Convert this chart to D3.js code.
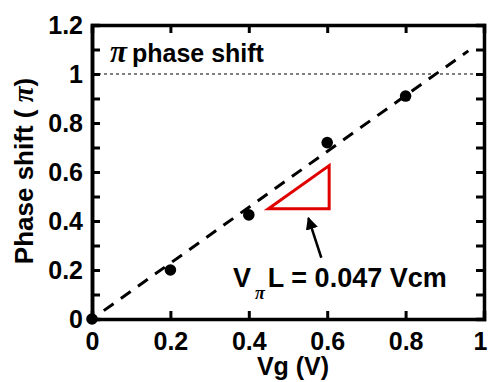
<!DOCTYPE html>
<html>
<head>
<meta charset="utf-8">
<script src="https://cdn.jsdelivr.net/npm/d3@7"></script>
<style>
  body { margin: 0; background: #fff; }
  text { font-family: "Liberation Sans", Arial, sans-serif; font-weight: bold; fill: #000; }
</style>
</head>
<body>
<svg width="488" height="382"></svg>
<script>
// measured phase shift vs gate voltage
let vg = [0, 0.2, 0.4, 0.6, 0.8];
let phase = [0, 0.2, 0.425, 0.72, 0.91];

// linear fit (dashed)
let fitX = [0.03, 0.96];
let fitSlope = 1.14;

// slope triangle + arrow annotation
let triX = [0.45, 0.605, 0.605];
let triY = [0.45, 0.45, 0.626];
let arrowFrom = [0.585, 0.25];
let arrowTo = [0.552, 0.412];

let xTicks = [0, 0.2, 0.4, 0.6, 0.8, 1];
let yTicks = [0, 0.2, 0.4, 0.6, 0.8, 1, 1.2];
let yMinor = d3.range(0, 1.25, 0.1);

let svg = d3.select("svg");
let margin = { left: 92, right: 4, top: 25, bottom: 63 };
let W = 488 - margin.left - margin.right;
let H = 382 - margin.top - margin.bottom;

let x = d3.scaleLinear().domain([0, 1]).range([margin.left, margin.left + W]);
let y = d3.scaleLinear().domain([0, 1.2]).range([margin.top + H, margin.top]);

// pi line
svg.append("line")
  .attr("x1", x(0)).attr("x2", x(1))
  .attr("y1", y(1)).attr("y2", y(1))
  .attr("stroke", "#000").attr("stroke-width", 1)
  .attr("stroke-dasharray", "3,3");

// fit line
svg.append("line")
  .attr("x1", x(fitX[0])).attr("y1", y(fitX[0] * fitSlope))
  .attr("x2", x(fitX[1])).attr("y2", y(fitX[1] * fitSlope))
  .attr("stroke", "#000").attr("stroke-width", 3)
  .attr("stroke-dasharray", "12,9");

// triangle
svg.append("path")
  .attr("d", d3.line().x(d => x(d[0])).y(d => y(d[1])).curve(d3.curveLinearClosed)(d3.zip(triX, triY)))
  .attr("fill", "none").attr("stroke", "#e00000").attr("stroke-width", 3);

// arrow
svg.append("defs").append("marker")
  .attr("id", "head").attr("viewBox", "0 0 10 10")
  .attr("refX", 9).attr("refY", 5)
  .attr("markerWidth", 5).attr("markerHeight", 5)
  .attr("orient", "auto")
  .append("path").attr("d", "M0,0L10,5L0,10z").attr("fill", "#000");
svg.append("line")
  .attr("x1", x(arrowFrom[0])).attr("y1", y(arrowFrom[1]))
  .attr("x2", x(arrowTo[0])).attr("y2", y(arrowTo[1]))
  .attr("stroke", "#000").attr("stroke-width", 2.5)
  .attr("marker-end", "url(#head)");

// points
svg.append("g").selectAll("circle")
  .data(d3.zip(vg, phase))
  .enter().append("circle")
  .attr("cx", d => x(d[0])).attr("cy", d => y(d[1]))
  .attr("r", 5.8).attr("fill", "#000");

// axes
let tickLen = 8;
let xAxisG = svg.append("g").attr("transform", `translate(0,${y(0)})`)
  .call(d3.axisBottom(x).tickValues(xTicks).tickSize(-tickLen).tickPadding(13).tickFormat(d3.format("~g")));
svg.append("g").attr("transform", `translate(0,${y(1.2)})`)
  .call(d3.axisTop(x).tickValues(xTicks).tickSize(-tickLen).tickFormat(""));
svg.append("g").attr("transform", `translate(${x(0)},0)`)
  .call(d3.axisLeft(y).tickValues(yMinor).tickSize(-tickLen).tickFormat(""));
svg.append("g").attr("transform", `translate(${x(0)},0)`)
  .call(d3.axisLeft(y).tickValues(yTicks).tickSize(0).tickPadding(9).tickFormat(d3.format("~g")));
svg.append("g").attr("transform", `translate(${x(1)},0)`)
  .call(d3.axisRight(y).tickValues(yMinor).tickSize(-tickLen).tickFormat(""));

svg.selectAll(".domain").attr("stroke", "#000").attr("stroke-width", 3.5);
svg.selectAll(".tick line").attr("stroke", "#000").attr("stroke-width", 3);
svg.selectAll(".tick text").style("font-size", "25px").style("font-family", "Liberation Sans, Arial, sans-serif").style("font-weight", "bold").attr("fill", "#000");
// last x label pulled in so it stays on the page
xAxisG.selectAll(".tick text").filter(d => d === 1).attr("text-anchor", "end").attr("dx", 3);

// labels
let piText = svg.append("text").attr("x", 110).attr("y", 62).style("font-size", "25px");
piText.append("tspan").style("font-family", "Liberation Serif").style("font-style", "italic").style("font-size", "31px").text("π");
piText.append("tspan").attr("dx", 5).text("phase shift");

let ann = svg.append("text").attr("x", 233).attr("y", 287).style("font-size", "27px");
ann.append("tspan").text("V");
ann.append("tspan").attr("dy", 12).attr("dx", 4).style("font-size", "18px").style("font-family", "Liberation Serif").style("font-style", "italic").text("π");
ann.append("tspan").attr("dy", -12).attr("dx", 3).text("L = 0.047 Vcm");

svg.append("text")
  .attr("x", 293).attr("y", 375).attr("text-anchor", "middle")
  .style("font-size", "25px")
  .text("Vg (V)");

let yl = svg.append("text")
  .attr("transform", "translate(33,171) rotate(-90)")
  .attr("text-anchor", "middle")
  .style("font-size", "26px");
yl.append("tspan").text("Phase shift ( ");
yl.append("tspan").style("font-family", "Liberation Serif").style("font-style", "italic").style("font-size", "29px").text("π");
yl.append("tspan").text(")");
</script>
</body>
</html>
